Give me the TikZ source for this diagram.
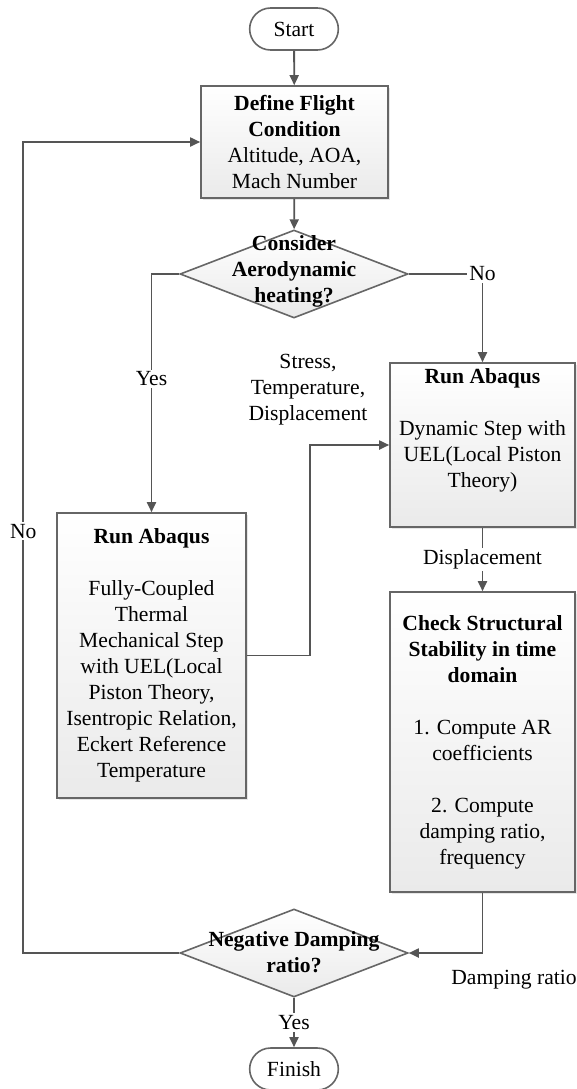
\documentclass[tikz,border=0pt]{standalone}
\usepackage{fontspec}
\setmainfont{Liberation Serif}
\usetikzlibrary{arrows.meta,calc,shapes.geometric,shapes.misc,shadows}
\definecolor{Wire}{HTML}{555555}
\definecolor{Frame}{HTML}{666666}
\definecolor{Shade}{HTML}{EAEAEA}
\tikzset{
  base/.style={font=\fontsize{10.8}{13}\selectfont, align=center},
  process/.style={
    base, draw=Frame, line width=0.8pt, top color=white, bottom color=Shade,
    drop shadow={opacity=0.2, shadow xshift=0.8pt, shadow yshift=-0.8pt},
    inner sep=0pt
  },
  decision/.style={
    diamond, draw=Frame, line width=0.8pt, top color=white, bottom color=Shade,
    minimum width=114pt, minimum height=44pt, inner sep=0pt
  },
  decisiontext/.style={font=\fontsize{10.8}{13}\selectfont\bfseries, align=center},
  terminal/.style={
    base, rounded rectangle, draw=Frame, line width=0.8pt, fill=white,
    minimum width=51pt, minimum height=21pt
  },
  flow/.style={-{Triangle[length=5pt,width=4.5pt]}, draw=Wire, line width=0.9pt},
  tag/.style={base, fill=white, inner sep=1pt}
}

\begin{document}
\begin{tikzpicture}[x=0.5pt, y=-0.5pt]
  \useasboundingbox (0,0) rectangle (577,1089);
  % main column
  \node[terminal] (start) at (294,29) {Start};
  \node[process, minimum width=93.5pt, minimum height=56pt] (define) at (294.5,142)
    {\textbf{Define Flight}\\\textbf{Condition}\\Altitude, AOA,\\Mach Number};
  \node[decision] (heat) at (294,274) {};
  \node[decisiontext] (heattxt) at (294,271) {Consider\\Aerodynamic\\heating?};
  % solver steps
  \node[process, minimum width=94.5pt, minimum height=142.5pt] (coupled) at (151.5,655.5)
    {\textbf{Run Abaqus}\\[13pt]Fully-Coupled\\Thermal\\Mechanical Step\\with UEL(Local\\Piston Theory,\\Isentropic Relation,\\Eckert Reference\\Temperature};
  \node[process, minimum width=92.5pt, minimum height=82pt] (dynamic) at (482.5,445)
    {\textbf{Run Abaqus}\\[13pt]Dynamic Step with\\UEL(Local Piston\\Theory)\\\strut};
  \node[process, minimum width=92.5pt, minimum height=150pt] (check) at (482.5,742)
    {\textbf{Check Structural}\\\textbf{Stability in time}\\\textbf{domain}\\[13pt]1. Compute AR\\coefficients\\[13pt]2. Compute\\damping ratio,\\frequency};
  \node[decision] (negative) at (294,953) {};
  \node[decisiontext] (negtxt) at (294,952) {Negative Damping\\ratio?};
  \node[terminal] (finish) at (294,1069) {Finish};
  % free labels
  \node[base] (fields) at (308,390) {Stress,\\Temperature,\\Displacement};
  \node[base] (ratio) at (514,980) {Damping ratio};

  \draw[flow] (start) -- (define);
  \draw[flow] (define) -- (heat);
  \draw[flow] (heat.west) -| node[tag, pos=0.72] {Yes} (coupled.north);
  \draw[flow] (heat.east) -| node[tag, pos=0.5] {No} (dynamic.north);
  \draw[flow] (coupled.east) -- ++(63,0) |- (dynamic.west);
  \draw[flow] (dynamic) -- node[tag] {Displacement} (check);
  \draw[flow] (check.south) |- (negative.east);
  \draw[flow] (negative) -- node[tag] {Yes} (finish);
  \draw[flow] (negative.west) -- ++(-156,0) |- node[tag, pos=0.26] {No} (define.west);
\end{tikzpicture}
\end{document}
